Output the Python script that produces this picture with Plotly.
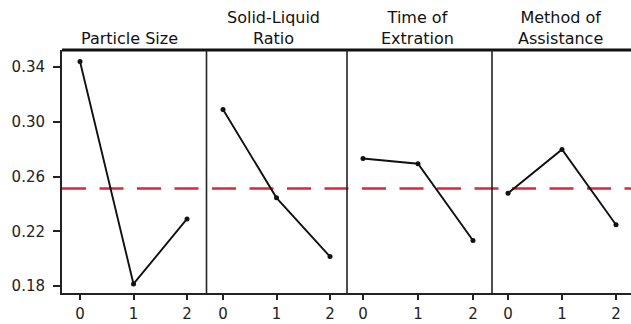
import plotly.graph_objects as go

# ---- data ----
factors = ["Particle Size", "Solid-Liquid<br>Ratio", "Time of<br>Extration", "Method of<br>Assistance"]
levels = [0, 1, 2]
particle_size = [0.344, 0.1815, 0.229]
solid_liquid = [0.309, 0.2444, 0.2015]
time_extraction = [0.2732, 0.2693, 0.2132]
method_assist = [0.2477, 0.2798, 0.2248]
grand_mean = 0.2513
y_ticks = [0.18, 0.22, 0.26, 0.30, 0.34]

series = [particle_size, solid_liquid, time_extraction, method_assist]

# ---- layout geometry (pixels) ----
W, H = 631, 324
bounds = [62, 206.5, 347, 492, 631]
tick0_px = [80, 223, 363, 508]
tick2_px = [187, 330, 473, 616]
top_px, bot_px = 50, 293
title_x_px = [129, 273, 417, 560]

def fx(px):
    return px / W

def fy(py):
    return 1 - py / H

FONT = "DejaVu Sans"

fig = go.Figure()
layout = dict(
    width=W, height=H,
    margin=dict(l=0, r=0, t=0, b=0, autoexpand=False),
    paper_bgcolor="white", plot_bgcolor="white",
    showlegend=False,
    font=dict(family=FONT, size=15, color="#222"),
)

layout["yaxis"] = dict(
    domain=[fy(bot_px), fy(top_px)],
    range=[0.1749, 0.3524],
    tickvals=y_ticks, tickformat=".2f",
    ticks="outside", ticklen=7, tickwidth=2, tickcolor="#222",
    showline=True, linewidth=2, linecolor="#222",
    showgrid=False, zeroline=False, automargin=False,
    ticklabelstandoff=5,
    tickfont=dict(family=FONT, size=15, color="#222"),
)

for i in range(4):
    s = (tick2_px[i] - tick0_px[i]) / 2.0
    r0 = (bounds[i] - tick0_px[i]) / s
    r1 = (bounds[i + 1] - tick0_px[i]) / s
    name = "xaxis" if i == 0 else f"xaxis{i+1}"
    layout[name] = dict(
        domain=[fx(bounds[i]), fx(bounds[i + 1])],
        range=[r0, r1], anchor="y",
        tickvals=levels,
        ticks="outside", ticklen=5, tickwidth=2, tickcolor="#222",
        showline=True, linewidth=2, linecolor="#222",
        showgrid=False, zeroline=False, automargin=False,
        ticklabelstandoff=1,
        tickfont=dict(family=FONT, size=15, color="#222"),
    )
    fig.add_trace(go.Scatter(
        x=levels, y=series[i],
        xaxis="x" if i == 0 else f"x{i+1}", yaxis="y",
        mode="lines+markers",
        line=dict(color="#111", width=1.9),
        marker=dict(color="#111", size=5),
        cliponaxis=False,
        hoverinfo="skip",
    ))

shapes = []
# thick top rule of the header strip
shapes.append(dict(type="line", xref="paper", yref="paper",
                   x0=fx(bounds[0]), x1=1, y0=fy(top_px), y1=fy(top_px),
                   line=dict(color="#111", width=3)))
# panel dividers
for b in bounds[1:4]:
    shapes.append(dict(type="line", xref="paper", yref="paper",
                       x0=fx(b), x1=fx(b), y0=fy(bot_px), y1=fy(top_px),
                       line=dict(color="#222", width=1.6)))
# grand mean reference line
shapes.append(dict(type="line", xref="paper", yref="y",
                   x0=fx(bounds[0]), x1=1, y0=grand_mean, y1=grand_mean,
                   line=dict(color="#d8283a", width=2.5, dash="24px,13.5px"),
                   layer="below"))
layout["shapes"] = shapes

annotations = []
for i, t in enumerate(factors):
    annotations.append(dict(
        text=t, xref="paper", yref="paper",
        x=fx(title_x_px[i]), y=fy(50), xanchor="center", yanchor="bottom",
        showarrow=False, font=dict(family=FONT, size=16, color="#111"),
    ))
layout["annotations"] = annotations

fig.update_layout(**layout)
fig.write_html("out.html")
